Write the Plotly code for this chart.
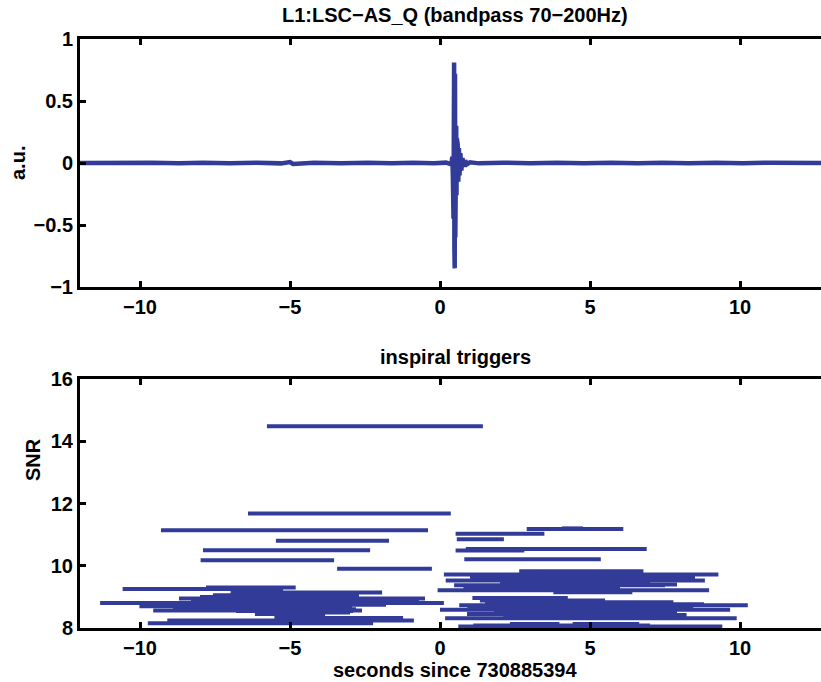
import plotly.graph_objects as go

# ---------------- data ----------------
# top panel: L1:LSC-AS_Q (bandpass 70-200Hz)
wave_t = [-12.0, -11.2, -10.5, -9.6, -8.7, -7.9, -7.0, -6.1, -5.3, -5.0, -4.9, -4.2, -3.3,
          -2.4, -1.6, -0.9, -0.2, 0.20, 0.38, 0.41, 0.43, 0.44, 0.45, 0.46, 0.47, 0.48,
          0.49, 0.50, 0.51, 0.52, 0.53, 0.54, 0.55, 0.56, 0.57, 0.59, 0.61, 0.63, 0.65,
          0.68, 0.71, 0.75, 0.79, 0.84, 0.90, 1.00, 1.3, 2.1, 3.0, 3.9, 4.8, 5.7, 6.6,
          7.4, 8.3, 9.2, 10.1, 11.0, 11.9, 12.7]
wave_v = [0.0, 0.003, -0.003, 0.003, -0.003, 0.003, -0.003, 0.003, -0.003, 0.008, -0.008, 0.003, -0.003,
          0.003, -0.003, 0.003, -0.003, 0.003, -0.01, 0.05, -0.12, 0.30, -0.45, 0.62, 0.81, -0.70,
          -0.85, 0.72, -0.60, 0.48, -0.40, 0.30, -0.26, 0.20, -0.18, 0.15, -0.15, 0.12, -0.10,
          0.08, -0.06, 0.04, -0.03, 0.02, -0.01, 0.005, -0.003, 0.003, -0.003, 0.003, -0.003, 0.003, -0.003,
          0.003, -0.003, 0.003, -0.003, 0.003, -0.003, 0.0]

# bottom panel: inspiral triggers (start time, end time, SNR)
trig_start = [-5.77, -6.40, -9.30, -5.47, -7.90, -7.98, -3.43, -10.58, -7.80, -6.98,
              -7.57, -8.70, -7.00, -11.33, -10.02, -6.50, -8.20, -9.56, -6.17, -5.52,
              -9.09, -9.74, -8.30, -5.80, -7.30, -5.00,
              -8.00, -6.00, -7.50, -8.90, -6.80, -5.50,
              2.89, 4.06, 0.52, 0.56, 0.86, 0.52, 0.81, 2.64, 0.13, 1.53,
              3.76, 0.19, 0.47, 0.78, 3.78, -0.08, 1.08, 1.33, 2.40, 0.64,
              0.91, 0.00, 4.94, 2.74, 2.11, 0.17, 2.33, 4.42, 0.61, 1.11,
              1.50, 3.00, 2.00, 1.20, 3.50,
              1.00, 2.50, 1.80, 3.20, 0.90]
trig_end = [1.43, 0.36, -0.40, -1.70, -2.33, -3.53, -0.27, -5.23, -4.81, -1.93,
            -2.70, -0.50, -0.70, 0.13, -2.93, -1.80, -3.50, -2.60, -3.83, -1.23,
            -0.87, -2.23, -4.50, -2.80, -5.00, -2.00,
            -3.00, -2.20, -4.00, -3.10, -2.90, -3.00,
            6.11, 4.77, 3.48, 2.13, 6.89, 2.81, 5.36, 6.78, 9.28, 3.31,
            5.72, 8.83, 7.50, 5.20, 6.41, 8.97, 4.26, 5.50, 7.78, 10.26,
            8.44, 9.67, 7.61, 8.22, 7.89, 9.89, 3.98, 6.64, 9.41, 7.00,
            7.30, 8.00, 6.50, 6.00, 7.90,
            8.50, 7.00, 7.90, 8.80, 6.80]
trig_snr = [14.48, 11.68, 11.14, 10.80, 10.50, 10.18, 9.90, 9.25, 9.30, 9.14,
            9.05, 8.95, 8.90, 8.80, 8.70, 8.75, 8.65, 8.56, 8.45, 8.32,
            8.24, 8.15, 8.85, 8.60, 8.98, 8.82,
            9.00, 8.92, 8.70, 8.62, 8.55, 8.50,
            11.18, 11.20, 11.03, 10.85, 10.54, 10.49, 10.21, 9.82, 9.72, 9.65,
            9.60, 9.53, 9.37, 9.32, 9.15, 9.21, 8.96, 8.88, 8.83, 8.73,
            8.64, 8.59, 8.50, 8.42, 8.35, 8.31, 8.13, 8.13, 8.05, 8.08,
            8.78, 8.68, 9.45, 9.27, 9.40,
            9.62, 9.50, 8.55, 8.76, 8.45]

x_ticks = [-10, -5, 0, 5, 10]
top_y_ticks = [-1, -0.5, 0, 0.5, 1]
bot_y_ticks = [8, 10, 12, 14, 16]

# ---------------- styling ----------------
W, H = 821, 682
L = 80
BLUE = "rgb(50,60,152)"
FONT = dict(family="Liberation Sans, Arial, Helvetica, sans-serif", size=20, color="black", weight="bold")

def px_x(px):
    return (px - L) / (W - L)

def px_y(py):
    return 1 - py / H

seg_x, seg_y = [], []
for s, e, v in zip(trig_start, trig_end, trig_snr):
    seg_x += [s, e, None]
    seg_y += [v, v, None]

fig = go.Figure()
fig.add_trace(go.Scatter(x=wave_t, y=wave_v, mode="lines",
                         line=dict(color=BLUE, width=4.5), xaxis="x", yaxis="y",
                         showlegend=False, hoverinfo="skip"))
fig.add_trace(go.Scatter(x=seg_x, y=seg_y, mode="lines",
                         line=dict(color=BLUE, width=4), xaxis="x2", yaxis="y2",
                         showlegend=False, hoverinfo="skip"))

axis_common = dict(showgrid=False, zeroline=False, showline=True, linecolor="black",
                   linewidth=3, ticks="inside", ticklen=6, tickwidth=3, tickcolor="black",
                   tickfont=FONT, automargin=False)

fig.update_layout(
    template="none",
    width=W, height=H,
    margin=dict(l=L, r=0, t=0, b=0, pad=0, autoexpand=False),
    paper_bgcolor="white", plot_bgcolor="white",
    xaxis=dict(domain=[0, 1], anchor="y", range=[-12, 12.7], tickvals=x_ticks,
               mirror="ticks", **axis_common),
    yaxis=dict(domain=[px_y(287), px_y(39)], anchor="x", range=[-1, 1],
               tickvals=top_y_ticks, mirror=False, **axis_common),
    xaxis2=dict(domain=[0, 1], anchor="y2", range=[-12, 12.7], tickvals=x_ticks,
                mirror="ticks", **axis_common),
    yaxis2=dict(domain=[px_y(628), px_y(379)], anchor="x2", range=[8, 16],
                tickvals=bot_y_ticks, mirror=False, **axis_common),
)

annos = [
    dict(text="L1:LSC\u2212AS_Q (bandpass 70\u2212200Hz)", x=px_x(455), y=px_y(15)),
    dict(text="inspiral triggers", x=px_x(455), y=px_y(357)),
    dict(text="seconds since 730885394", x=px_x(455), y=px_y(670)),
    dict(text="a.u.", x=px_x(18), y=px_y(163), textangle=-90),
    dict(text="SNR", x=px_x(33), y=px_y(460), textangle=-90),
]
for a in annos:
    fig.add_annotation(xref="paper", yref="paper", showarrow=False, font=FONT,
                       xanchor="center", yanchor="middle", **a)

fig.write_html(
    "out.html",
    config={"displayModeBar": False, "staticPlot": True},
    post_script=(
        "document.documentElement.style.margin='0';"
        "document.documentElement.style.padding='0';"
        "document.documentElement.style.overflow='hidden';"
        "document.body.style.margin='0';"
        "document.body.style.padding='0';"
        "document.body.style.overflow='hidden';"
        "var d=document.getElementById('{plot_id}');"
        "d.style.position='fixed';d.style.top='0px';d.style.left='0px';"
    ),
)
